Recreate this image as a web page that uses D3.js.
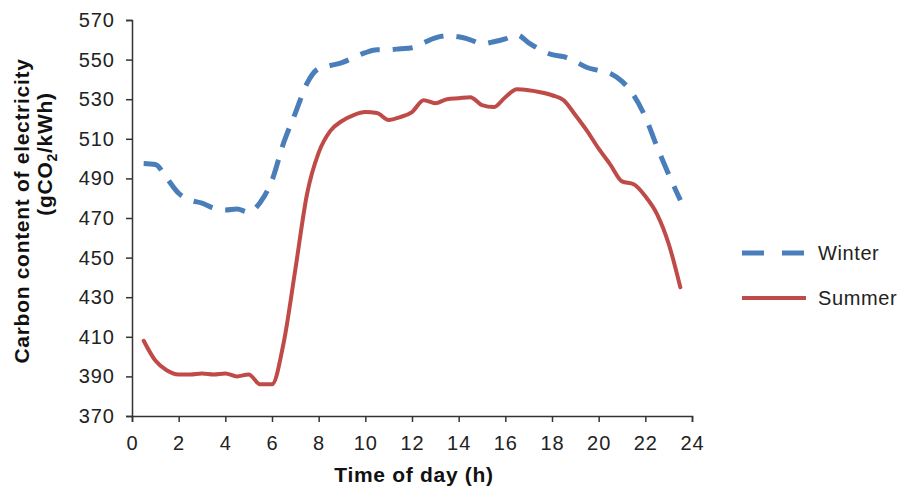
<!DOCTYPE html>
<html lang="en">
<head>
<meta charset="UTF-8">
<title>Carbon content of electricity</title>
<script src="https://d3js.org/d3.v7.min.js"></script>
<style>
    body {
        margin: 0;
        background: #fff;
        font-family: 'Liberation Sans', Arial, sans-serif;
    }
    .axis path, .axis line {
        stroke: #333;
        stroke-width: 1.5px;
    }
    .axis text {
        fill: #222;
        font-size: 20px;
        letter-spacing: 1px;
        font-family: 'Liberation Sans', Arial, sans-serif;
    }
    .title {
        fill: #111;
        font-size: 21px;
        font-weight: bold;
        letter-spacing: 0.7px;
    }
    .legend text {
        fill: #222;
        font-size: 20px;
        letter-spacing: 0.6px;
    }
</style>
</head>
<body>
<svg id="chart" width="906" height="488"></svg>
<script>
    // hours of the day (half-hour steps)
    const hours = [0.5, 1, 1.5, 2, 2.5, 3, 3.5, 4, 4.5, 5, 5.5, 6, 6.5, 7, 7.5, 8,
        8.5, 9, 9.5, 10, 10.5, 11, 11.5, 12, 12.5, 13, 13.5, 14, 14.5, 15, 15.5, 16,
        16.5, 17, 17.5, 18, 18.5, 19, 19.5, 20, 20.5, 21, 21.5, 22, 22.5, 23, 23.5];

    const winter = [497.5, 497, 490, 482.5, 479, 477.5, 475, 474, 474.5, 473, 478, 489, 508, 523, 538, 545.5,
        547, 548.5, 551, 553.5, 555, 555, 555.5, 556, 558.5, 561, 562, 561.5, 560, 558, 559, 560.5,
        562.5, 558.5, 555, 552.5, 551.5, 549, 546, 544.5, 543, 539, 532, 521, 506, 492, 479];

    const summer = [408, 398, 393, 391, 391, 391.5, 391, 391.5, 390, 391, 386, 386, 407, 444, 482, 503,
        514, 519, 522, 523.5, 523, 519.5, 521, 523.5, 529.5, 528, 530, 530.5, 531, 527, 526, 531,
        535, 534.5, 533.5, 532, 529.5, 522, 514, 505, 497, 488.5, 487, 481, 472, 457, 435];

    const xTicks = [0, 2, 4, 6, 8, 10, 12, 14, 16, 18, 20, 22, 24];
    const yTicks = [370, 390, 410, 430, 450, 470, 490, 510, 530, 550, 570];

    const series = [
        { name: "Winter", values: winter, color: "#4a7ebb", width: 5, dash: "20,13" },
        { name: "Summer", values: summer, color: "#be4b48", width: 4, dash: null }
    ];

    const svg = d3.select("#chart");

    const x = d3.scaleLinear().domain([0, 24]).range([132, 692]);
    const y = d3.scaleLinear().domain([370, 570]).range([416, 20]);

    svg.append("g")
        .attr("class", "axis")
        .attr("transform", "translate(0,416)")
        .call(d3.axisBottom(x).tickValues(xTicks).tickSize(6).tickPadding(8).tickSizeOuter(6))
        .selectAll("text").attr("dy", "1em");

    svg.append("g")
        .attr("class", "axis")
        .attr("transform", "translate(132,0)")
        .call(d3.axisLeft(y).tickValues(yTicks).tickSize(6).tickPadding(11).tickSizeOuter(6));

    const line = d3.line()
        .x((d, i) => x(hours[i]))
        .y(d => y(d))
        .curve(d3.curveMonotoneX);

    series.forEach(s => {
        svg.append("path")
            .datum(s.values)
            .attr("fill", "none")
            .attr("stroke", s.color)
            .attr("stroke-width", s.width)
            .attr("stroke-linecap", s.dash ? "butt" : "round")
            .attr("stroke-dasharray", s.dash)
            .attr("d", line);
    });

    // axis titles
    svg.append("text")
        .attr("class", "title")
        .attr("x", 414)
        .attr("y", 482)
        .attr("text-anchor", "middle")
        .text("Time of day (h)");

    svg.append("text")
        .attr("class", "title")
        .attr("transform", "translate(29,211) rotate(-90)")
        .attr("text-anchor", "middle")
        .text("Carbon content of electricity");

    const yt2 = svg.append("text")
        .attr("class", "title")
        .attr("transform", "translate(52,154) rotate(-90)")
        .attr("text-anchor", "middle");
    yt2.append("tspan").text("(gCO");
    yt2.append("tspan").attr("font-size", "14px").attr("dy", 5).text("2");
    yt2.append("tspan").attr("dy", -5).text("/kWh)");

    // legend
    const legend = svg.append("g").attr("class", "legend");
    series.forEach((s, i) => {
        const ly = 253 + i * 45;
        legend.append("line")
            .attr("x1", 742).attr("x2", 806)
            .attr("y1", ly).attr("y2", ly)
            .attr("stroke", s.color)
            .attr("stroke-width", s.width)
            .attr("stroke-dasharray", s.dash ? "22,18" : null);
        legend.append("text")
            .attr("x", 818)
            .attr("y", ly + 7)
            .text(s.name);
    });
</script>
</body>
</html>
